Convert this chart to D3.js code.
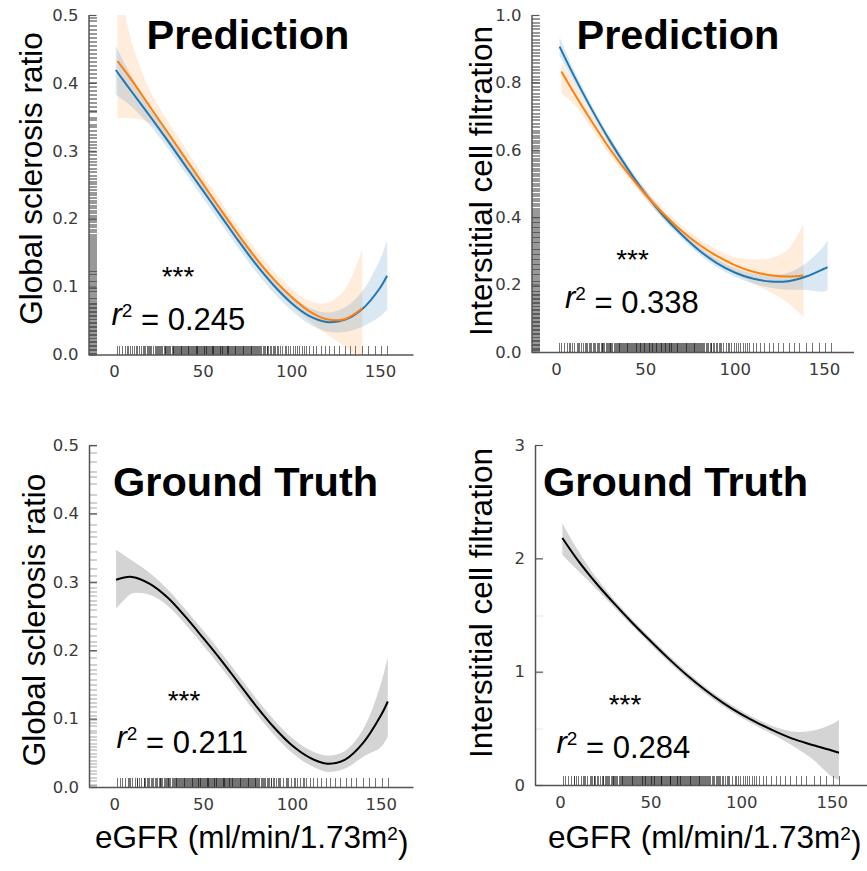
<!DOCTYPE html>
<html>
<head>
<meta charset="utf-8">
<script src="https://cdn.jsdelivr.net/npm/d3@7"></script>
<style>
  body { margin: 0; background: #fff; }
  svg { display: block; }
</style>
</head>
<body>
<div id="chart"></div>
<script>
const WIDTH = 867;
const HEIGHT = 871;

// tick labels
const X_TICKS = [0, 50, 100, 150];
const GS_TICKS = [0, 0.1, 0.2, 0.3, 0.4, 0.5];
const IC_PRED_TICKS = [0, 0.2, 0.4, 0.6, 0.8, 1.0];
const IC_TRUE_TICKS = [0, 1, 2, 3];

// eGFR values of the samples (bottom rug, same for all panels)
const EGFR_RUG = [1.5, 3, 4.5, 6, 7.5, 9, 10, 11.5, 12.5, 14, 15, 16.5, 17.5, 18.5, 19.5, 21, 22, 23, 24, 25,
  26, 27, 28, 29, 30, 30.5, 31.5, 32.5, 33.5, 34.5, 35, 36, 36.5, 37.5, 38.5, 39, 40, 40.5, 41.5, 42,
  43, 43.5, 44.5, 45, 46, 46.5, 47.5, 48, 49, 49.5, 50.5, 51, 52, 52.5, 53.5, 54, 55, 55.5, 56.5, 57,
  58, 58.5, 59.5, 60, 61, 61.5, 62.5, 63, 64, 64.5, 65.5, 66, 67, 68, 68.5, 69.5, 70, 71, 72, 73,
  73.5, 74.5, 75.5, 76.5, 77.5, 78.5, 79.5, 80.5, 81.5, 82.5, 84, 85, 86, 87, 88.5, 89.5, 91, 92, 93.5, 95,
  96.5, 98, 99.5, 101, 103, 104.5, 106, 108, 110, 112, 114, 116.5, 119, 121.5, 124, 127, 130.5, 133, 136, 140,
  143.5, 147, 150.5, 154,
  20.5, 23.5, 26.5, 29.5, 33, 35.5, 37, 39.5, 41, 42.5, 44, 45.5, 47, 48.5, 50, 51.5, 53, 54.5, 56, 57.5,
  59, 60.5, 62, 63.5, 65, 66.5, 67.5, 69, 71.5, 72.5, 74, 75, 77, 78, 80, 83, 86.5, 90,
  8, 13, 17, 19, 25.5, 28.5, 31, 34, 38, 47, 52, 56, 61, 64.5, 70.5, 76, 79, 81, 84.5, 88, 92.5, 97, 102, 107];

// y values of the samples (left rugs)
const GS_PRED_RUG = [0.004, 0.008, 0.012, 0.016, 0.02, 0.024, 0.028, 0.032, 0.036, 0.04, 0.044, 0.048, 0.052, 0.056,
  0.06, 0.064, 0.068, 0.072, 0.076, 0.08, 0.085, 0.09, 0.095, 0.1, 0.105, 0.11, 0.115, 0.12, 0.125, 0.13,
  0.136, 0.142, 0.148, 0.154, 0.16, 0.166, 0.172, 0.178, 0.185, 0.192, 0.199, 0.206, 0.213, 0.22, 0.228,
  0.236, 0.244, 0.252, 0.26, 0.27, 0.28, 0.29, 0.3, 0.31, 0.32, 0.33, 0.34, 0.35, 0.36, 0.372, 0.384, 0.396,
  0.408, 0.42, 0.432, 0.444, 0.456, 0.468, 0.48, 0.492,
  0.002, 0.006, 0.01, 0.014, 0.018, 0.022, 0.026, 0.03, 0.034, 0.038, 0.042, 0.046, 0.05, 0.054, 0.058, 0.062,
  0.066, 0.07, 0.074, 0.078, 0.083, 0.088, 0.093, 0.098, 0.103, 0.108, 0.113, 0.118, 0.123, 0.128, 0.133,
  0.139, 0.145, 0.151, 0.157, 0.163, 0.169, 0.175, 0.182, 0.189, 0.196, 0.203, 0.21, 0.217, 0.224, 0.232,
  0.24, 0.248, 0.256, 0.265, 0.275, 0.285, 0.295, 0.305, 0.315, 0.325, 0.336, 0.347, 0.358, 0.366, 0.378,
  0.39, 0.402, 0.414, 0.426, 0.438, 0.45, 0.462, 0.474, 0.486, 0.497];
const IC_PRED_RUG = [0.005, 0.012, 0.02, 0.028, 0.036, 0.044, 0.052, 0.06, 0.068, 0.076, 0.084, 0.092, 0.1, 0.108,
  0.116, 0.124, 0.132, 0.14, 0.148, 0.156, 0.164, 0.172, 0.18, 0.19, 0.2, 0.21, 0.22, 0.23, 0.24, 0.25, 0.26,
  0.27, 0.28, 0.29, 0.3, 0.31, 0.32, 0.33, 0.34, 0.35, 0.36, 0.37, 0.38, 0.39, 0.4, 0.41, 0.42, 0.435, 0.45,
  0.465, 0.48, 0.495, 0.51, 0.525, 0.54, 0.555, 0.57, 0.585, 0.6, 0.615, 0.63, 0.645, 0.66, 0.68, 0.7, 0.72,
  0.74, 0.76, 0.78, 0.8, 0.82, 0.84, 0.86, 0.88, 0.9, 0.92, 0.94, 0.96, 0.98,
  0.009, 0.016, 0.024, 0.032, 0.04, 0.048, 0.056, 0.064, 0.072, 0.08, 0.088, 0.096, 0.104, 0.112, 0.12, 0.128,
  0.136, 0.144, 0.152, 0.16, 0.168, 0.176, 0.185, 0.195, 0.205, 0.215, 0.225, 0.235, 0.245, 0.255, 0.265,
  0.275, 0.285, 0.295, 0.305, 0.315, 0.325, 0.335, 0.345, 0.355, 0.365, 0.375, 0.385, 0.395, 0.405, 0.415,
  0.428, 0.442, 0.457, 0.472, 0.487, 0.502, 0.517, 0.532, 0.547, 0.562, 0.577, 0.592, 0.607, 0.622, 0.637,
  0.652, 0.67, 0.69, 0.71, 0.73, 0.75, 0.77, 0.79, 0.81, 0.83, 0.85, 0.87, 0.89, 0.91, 0.93, 0.95, 0.97, 0.99];
const GS_TRUE_RUG = [0, 0.01, 0.02, 0.03, 0.04, 0.05, 0.06, 0.07, 0.08, 0.09, 0.1, 0.111, 0.125, 0.13, 0.143, 0.15,
  0.167, 0.18, 0.2, 0.214, 0.222, 0.25, 0.267, 0.273, 0.286, 0.3, 0.333, 0.357, 0.375, 0.4, 0.417, 0.444,
  0.455, 0.5,
  0.005, 0.015, 0.025, 0.035, 0.045, 0.055, 0.065, 0.075, 0.083, 0.095, 0.105, 0.118, 0.136, 0.158, 0.172,
  0.19, 0.208, 0.233, 0.24, 0.26, 0.28, 0.292, 0.31, 0.32, 0.345, 0.367, 0.385, 0.41, 0.429, 0.462, 0.476, 0.49];
const IC_TRUE_RUG = [0.5, 1, 1.5, 2];

// global sclerosis, prediction, model A (blue)
const GS_PRED_A_X = [1, 10, 20, 30, 40, 50, 60, 70, 80, 90, 100, 110, 120, 130, 140, 150, 154];
const GS_PRED_A_Y = [0.419, 0.387, 0.352, 0.316, 0.279, 0.242, 0.205, 0.168, 0.133, 0.102, 0.076, 0.057, 0.048, 0.051, 0.067, 0.098, 0.116];
const GS_PRED_A_LO = [0.383, 0.365, 0.338, 0.305, 0.268, 0.231, 0.194, 0.157, 0.122, 0.091, 0.065, 0.045, 0.034, 0.033, 0.041, 0.056, 0.066];
const GS_PRED_A_HI = [0.455, 0.409, 0.366, 0.327, 0.290, 0.253, 0.216, 0.179, 0.144, 0.113, 0.087, 0.069, 0.062, 0.069, 0.093, 0.140, 0.168];
// global sclerosis, prediction, model B (orange)
const GS_PRED_B_X = [2, 10, 20, 30, 40, 50, 60, 70, 80, 90, 100, 110, 120, 130, 140];
const GS_PRED_B_Y = [0.432, 0.404, 0.366, 0.328, 0.290, 0.252, 0.214, 0.177, 0.142, 0.111, 0.085, 0.064, 0.052, 0.052, 0.068];
const GS_PRED_B_LO = [0.348, 0.348, 0.342, 0.311, 0.275, 0.239, 0.202, 0.165, 0.130, 0.099, 0.072, 0.050, 0.030, 0.012, -0.01];
const GS_PRED_B_HI = [0.56, 0.46, 0.39, 0.345, 0.305, 0.265, 0.226, 0.189, 0.154, 0.123, 0.097, 0.079, 0.076, 0.095, 0.155];

// interstitial cell filtration, prediction, model A (blue)
const IC_PRED_A_X = [2, 10, 20, 30, 40, 50, 60, 70, 80, 90, 100, 110, 120, 130, 140, 150, 152];
const IC_PRED_A_Y = [0.906, 0.82, 0.72, 0.628, 0.545, 0.47, 0.405, 0.35, 0.302, 0.264, 0.236, 0.218, 0.209, 0.21, 0.224, 0.247, 0.252];
const IC_PRED_A_LO = [0.878, 0.802, 0.707, 0.616, 0.533, 0.458, 0.393, 0.338, 0.290, 0.252, 0.223, 0.203, 0.191, 0.185, 0.184, 0.179, 0.183];
const IC_PRED_A_HI = [0.934, 0.838, 0.733, 0.640, 0.557, 0.482, 0.417, 0.362, 0.314, 0.276, 0.249, 0.233, 0.227, 0.235, 0.264, 0.315, 0.332];
// interstitial cell filtration, prediction, model B (orange)
const IC_PRED_B_X = [3, 10, 20, 30, 40, 50, 60, 70, 80, 90, 100, 110, 120, 130, 138.5];
const IC_PRED_B_Y = [0.832, 0.769, 0.684, 0.604, 0.532, 0.468, 0.411, 0.361, 0.319, 0.285, 0.258, 0.239, 0.228, 0.224, 0.227];
const IC_PRED_B_LO = [0.767, 0.735, 0.662, 0.586, 0.517, 0.453, 0.396, 0.345, 0.302, 0.266, 0.235, 0.205, 0.178, 0.145, 0.104];
const IC_PRED_B_HI = [0.86, 0.802, 0.706, 0.622, 0.547, 0.483, 0.426, 0.377, 0.336, 0.304, 0.281, 0.275, 0.278, 0.305, 0.381];

// ground truth fits (black)
const GS_TRUE_X = [1, 5, 10, 20, 30, 40, 50, 60, 70, 80, 90, 100, 110, 120, 130, 140, 150, 154];
const GS_TRUE_Y = [0.303, 0.306, 0.307, 0.297, 0.277, 0.249, 0.218, 0.186, 0.152, 0.118, 0.087, 0.061, 0.043, 0.034, 0.040, 0.064, 0.104, 0.125];
const GS_TRUE_LO = [0.261, 0.272, 0.283, 0.281, 0.265, 0.238, 0.207, 0.175, 0.141, 0.107, 0.076, 0.050, 0.032, 0.022, 0.027, 0.044, 0.058, 0.074];
const GS_TRUE_HI = [0.347, 0.34, 0.331, 0.313, 0.289, 0.260, 0.229, 0.197, 0.163, 0.129, 0.098, 0.072, 0.054, 0.046, 0.053, 0.084, 0.150, 0.19];

const IC_TRUE_X = [1.3, 10, 20, 30, 40, 50, 60, 70, 80, 90, 100, 110, 120, 130, 140, 150, 154];
const IC_TRUE_Y = [2.18, 1.98, 1.78, 1.60, 1.43, 1.27, 1.115, 0.97, 0.84, 0.725, 0.625, 0.54, 0.465, 0.40, 0.35, 0.305, 0.285];
const IC_TRUE_LO = [2.03, 1.89, 1.73, 1.565, 1.40, 1.24, 1.085, 0.94, 0.81, 0.695, 0.595, 0.508, 0.425, 0.33, 0.22, 0.075, 0.044];
const IC_TRUE_HI = [2.31, 2.07, 1.83, 1.635, 1.46, 1.30, 1.145, 1.00, 0.87, 0.755, 0.655, 0.572, 0.505, 0.47, 0.48, 0.535, 0.574];

const R2_VALUES = ["0.245", "0.338", "0.211", "0.284"];

const BLUE = "#1f77b4";
const ORANGE = "#ff7f0e";
const SANS = "'Liberation Sans', Arial, sans-serif";
const TICK_FONT = "'DejaVu Sans', sans-serif";

const PANELS = [
  { left: 88.5, right: 413, x0: 114, x150: 380, top: 15, bottom: 354.5, yMax: 0.5, ticks: GS_TICKS, fmt: ".1f",
    title: "Prediction", tx: 146.5, ty: 48.5, ylab: "Global sclerosis ratio", lx: 42, ly: 178.5,
    r2: R2_VALUES[0], rx: 111.5, ry: 325, sx: 178, sy: 286, yRug: GS_PRED_RUG, rugAlpha: 0.4, xlab: false,
    curves: [
      { x: GS_PRED_B_X, y: GS_PRED_B_Y, lo: GS_PRED_B_LO, hi: GS_PRED_B_HI, color: ORANGE, fill: ORANGE, op: 0.15 },
      { x: GS_PRED_A_X, y: GS_PRED_A_Y, lo: GS_PRED_A_LO, hi: GS_PRED_A_HI, color: BLUE, fill: BLUE, op: 0.17 }
    ], order: [1, 0] },
  { left: 531.5, right: 853.5, x0: 556, x150: 824, top: 15, bottom: 352, yMax: 1.0, ticks: IC_PRED_TICKS, fmt: ".1f",
    title: "Prediction", tx: 576.5, ty: 48.5, ylab: "Interstitial cell filtration", lx: 491.5, ly: 181,
    r2: R2_VALUES[1], rx: 565, ry: 308, sx: 632.5, sy: 269, yRug: IC_PRED_RUG, rugAlpha: 0.4, xlab: false,
    curves: [
      { x: IC_PRED_B_X, y: IC_PRED_B_Y, lo: IC_PRED_B_LO, hi: IC_PRED_B_HI, color: ORANGE, fill: ORANGE, op: 0.15 },
      { x: IC_PRED_A_X, y: IC_PRED_A_Y, lo: IC_PRED_A_LO, hi: IC_PRED_A_HI, color: BLUE, fill: BLUE, op: 0.17 }
    ], order: [1, 0] },
  { left: 89, right: 413, x0: 114.3, x150: 380.7, top: 445, bottom: 787, yMax: 0.5, ticks: GS_TICKS, fmt: ".1f",
    title: "Ground Truth", tx: 113, ty: 496, ylab: "Global sclerosis ratio", lx: 45, ly: 620,
    r2: R2_VALUES[2], rx: 116.5, ry: 748, sx: 184, sy: 710, yRug: GS_TRUE_RUG, rugAlpha: 0.18, xlab: true, xlx: 95,
    curves: [
      { x: GS_TRUE_X, y: GS_TRUE_Y, lo: GS_TRUE_LO, hi: GS_TRUE_HI, color: "#000", fill: "#000", op: 0.17 }
    ], order: [0] },
  { left: 535, right: 867, x0: 560, x150: 831.7, top: 445, bottom: 785, yMax: 3, ticks: IC_TRUE_TICKS, fmt: "d",
    title: "Ground Truth", tx: 543, ty: 496, ylab: "Interstitial cell filtration", lx: 491.5, ly: 603,
    r2: R2_VALUES[3], rx: 556.5, ry: 753, sx: 625, sy: 714, yRug: IC_TRUE_RUG, rugAlpha: 0.05, xlab: true, xlx: 548,
    curves: [
      { x: IC_TRUE_X, y: IC_TRUE_Y, lo: IC_TRUE_LO, hi: IC_TRUE_HI, color: "#000", fill: "#000", op: 0.17 }
    ], order: [0] }
];

const svg = d3.select("#chart")
  .append("svg")
  .attr("width", WIDTH)
  .attr("height", HEIGHT);

PANELS.forEach((p, pi) => {
  const g = svg.append("g");

  // scale from [0,150] to the tick positions, then stretch to the axis extent
  const x = d3.scaleLinear().domain([0, 150]).range([p.x0, p.x150]);
  x.domain([x.invert(p.left), x.invert(p.right)]).range([p.left, p.right]);
  const y = d3.scaleLinear().domain([0, p.yMax]).range([p.bottom, p.top]);

  // rugs first, snapped to whole pixels so they stay crisp
  g.append("g").attr("class", "rug-y").selectAll("rect")
    .data(p.yRug)
    .enter()
    .append("rect")
    .attr("x", Math.round(p.left))
    .attr("y", (d) => Math.min(Math.round(y(d)), Math.round(p.bottom) - 2))
    .attr("width", 8)
    .attr("height", 2)
    .attr("fill", "#000")
    .attr("fill-opacity", p.rugAlpha);

  g.append("g").attr("class", "rug-x").selectAll("rect")
    .data(EGFR_RUG)
    .enter()
    .append("rect")
    .attr("x", (d) => Math.round(x(d)))
    .attr("y", Math.round(p.bottom) - 9)
    .attr("width", 1)
    .attr("height", 9)
    .attr("fill", "#000")
    .attr("fill-opacity", 0.55);

  const clipId = "clip" + pi;
  g.append("clipPath").attr("id", clipId)
    .append("rect")
    .attr("x", p.left).attr("y", p.top)
    .attr("width", p.right - p.left).attr("height", p.bottom - p.top);

  const plot = g.append("g").attr("clip-path", "url(#" + clipId + ")");

  // confidence bands
  p.curves.forEach((c) => {
    const idx = d3.range(c.x.length);
    const area = d3.area()
      .x((i) => x(c.x[i]))
      .y0((i) => y(c.lo[i]))
      .y1((i) => y(c.hi[i]))
      .curve(d3.curveCatmullRom);
    plot.append("path")
      .attr("d", area(idx))
      .attr("fill", c.fill)
      .attr("fill-opacity", c.op);
  });

  // fitted lines
  p.order.forEach((k) => {
    const c = p.curves[k];
    const idx = d3.range(c.x.length);
    const line = d3.line()
      .x((i) => x(c.x[i]))
      .y((i) => y(c.y[i]))
      .curve(d3.curveCatmullRom);
    plot.append("path")
      .attr("d", line(idx))
      .attr("fill", "none")
      .attr("stroke", c.color)
      .attr("stroke-width", 2);
  });

  // axes
  const yAxis = g.append("g")
    .attr("transform", "translate(" + p.left + ",0)")
    .call(d3.axisLeft(y).tickValues(p.ticks).tickFormat(d3.format(p.fmt))
      .tickSizeInner(-8).tickSizeOuter(0).tickPadding(10));

  const xAxis = g.append("g")
    .attr("transform", "translate(0," + p.bottom + ")")
    .call(d3.axisBottom(x).tickValues(X_TICKS).tickSize(0).tickPadding(11));

  [yAxis, xAxis].forEach((a) => {
    a.select(".domain").attr("stroke", "#555").attr("stroke-width", 1.5);
    a.selectAll(".tick line").attr("stroke", "#555").attr("stroke-width", 1.2);
    a.selectAll(".tick text")
      .attr("fill", "#3a3a3a")
      .style("font-family", TICK_FONT)
      .style("font-size", "16.5px");
  });

  // title
  g.append("text")
    .attr("x", p.tx).attr("y", p.ty)
    .style("font-family", SANS)
    .style("font-weight", "bold")
    .style("font-size", "41.5px")
    .text(p.title);

  // y label
  g.append("text")
    .attr("transform", "translate(" + p.lx + "," + p.ly + ") rotate(-90)")
    .attr("text-anchor", "middle")
    .style("font-family", SANS)
    .style("font-size", "31.5px")
    .text(p.ylab);

  // significance stars
  g.append("text")
    .attr("x", p.sx).attr("y", p.sy)
    .attr("text-anchor", "middle")
    .style("font-family", SANS)
    .style("font-size", "28px")
    .text("***");

  // r squared
  const r2 = g.append("text")
    .attr("x", p.rx).attr("y", p.ry)
    .style("font-family", SANS)
    .style("font-size", "31px");
  r2.append("tspan").style("font-style", "italic").text("r");
  r2.append("tspan").attr("dy", "-0.42em").style("font-size", "19px").text("2");
  r2.append("tspan").attr("dy", "0.42em").text(" = " + p.r2);

  // x label
  if (p.xlab) {
    const xl = g.append("text")
      .attr("x", p.xlx).attr("y", 848)
      .style("font-family", SANS)
      .style("font-size", "31.5px");
    xl.append("tspan").text("eGFR (ml/min/1.73m");
    xl.append("tspan").attr("dy", "-0.42em").style("font-size", "19px").text("2");
    xl.append("tspan").attr("dy", "0.42em").text(")");
  }
});
</script>
</body>
</html>
